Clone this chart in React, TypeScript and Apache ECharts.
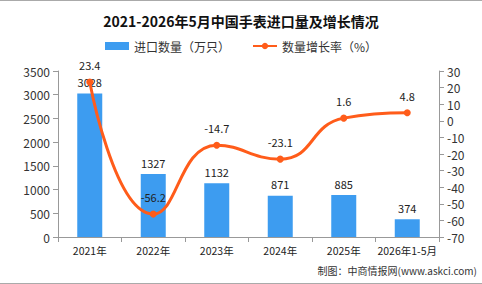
import React, { useEffect, useRef } from "react";
import * as echarts from "echarts";

const categories = ["2021年", "2022年", "2023年", "2024年", "2025年", "2026年1-5月"];
const importVolume = [3028, 1327, 1132, 871, 885, 374];
const growthRate = [23.4, -56.2, -14.7, -23.1, 1.6, 4.8];

export default function App() {
  const ref = useRef<HTMLDivElement>(null);
  useEffect(() => {
    document.body.style.margin = "0";
    const chart = echarts.init(ref.current!, null, { renderer: "svg" });
    const font = "'Noto Sans CJK SC', 'DejaVu Sans', sans-serif";
    chart.setOption({
      animation: false,
      backgroundColor: "#fff",
      textStyle: { fontFamily: font },
      title: {
        text: "2021-2026年5月中国手表进口量及增长情况",
        left: "center",
        top: 9,
        textStyle: { fontSize: 14, fontWeight: "bold", color: "#111", fontFamily: font },
      },
      legend: {
        top: 35,
        left: "center",
        itemGap: 22,
        itemWidth: 24,
        itemHeight: 8,
        textStyle: { fontSize: 12, color: "#333", fontFamily: font },
        data: [
          { name: "进口数量（万只）", icon: "rect" },
          { name: "数量增长率（%）" },
        ],
      },
      grid: { left: 58, right: 43, top: 71, bottom: 47 },
      xAxis: {
        type: "category",
        data: categories,
        axisLine: { lineStyle: { color: "#999" } },
        axisTick: { show: true, alignWithLabel: false, lineStyle: { color: "#999" } },
        axisLabel: { color: "#222", fontSize: 10.5, margin: 8, interval: 0 },
      },
      yAxis: [
        {
          type: "value",
          min: 0,
          max: 3500,
          interval: 500,
          axisLine: { show: true, lineStyle: { color: "#999" } },
          axisTick: { show: true, lineStyle: { color: "#999" } },
          splitLine: { show: false },
          axisLabel: { color: "#333", fontSize: 12, formatter: (v: number) => String(v) },
        },
        {
          type: "value",
          min: -70,
          max: 30,
          interval: 10,
          axisLine: { show: true, lineStyle: { color: "#999" } },
          axisTick: { show: true, lineStyle: { color: "#999" } },
          splitLine: { show: false },
          axisLabel: { color: "#333", fontSize: 12 },
        },
      ],
      series: [
        {
          name: "进口数量（万只）",
          type: "bar",
          data: importVolume,
          barWidth: 25,
          itemStyle: { color: "#3d9cf0" },
          label: { show: true, position: "top", color: "#222", fontSize: 11, distance: 6 },
        },
        {
          name: "数量增长率（%）",
          type: "line",
          yAxisIndex: 1,
          data: growthRate,
          smooth: true,
          symbol: "circle",
          symbolSize: 7,
          itemStyle: { color: "#ff5c1a" },
          lineStyle: { color: "#ff5c1a", width: 3 },
          label: { show: true, position: "top", color: "#222", fontSize: 11, distance: 8 },
          z: 3,
        },
      ],
      graphic: [
        {
          type: "text",
          right: 5,
          top: 265,
          style: {
            text: "制图：中商情报网(www.askci.com)",
            fontSize: 10,
            fill: "#333",
            fontFamily: font,
          },
        },
        { type: "line", shape: { x1: 0, y1: 0.5, x2: 482, y2: 0.5 }, style: { stroke: "#aaa", lineWidth: 1 } },
        { type: "line", shape: { x1: 0, y1: 283.5, x2: 482, y2: 283.5 }, style: { stroke: "#aaa", lineWidth: 1 } },
      ],
    });
    return () => chart.dispose();
  }, []);
  return <div ref={ref} style={{ width: 482, height: 284 }} />;
}
